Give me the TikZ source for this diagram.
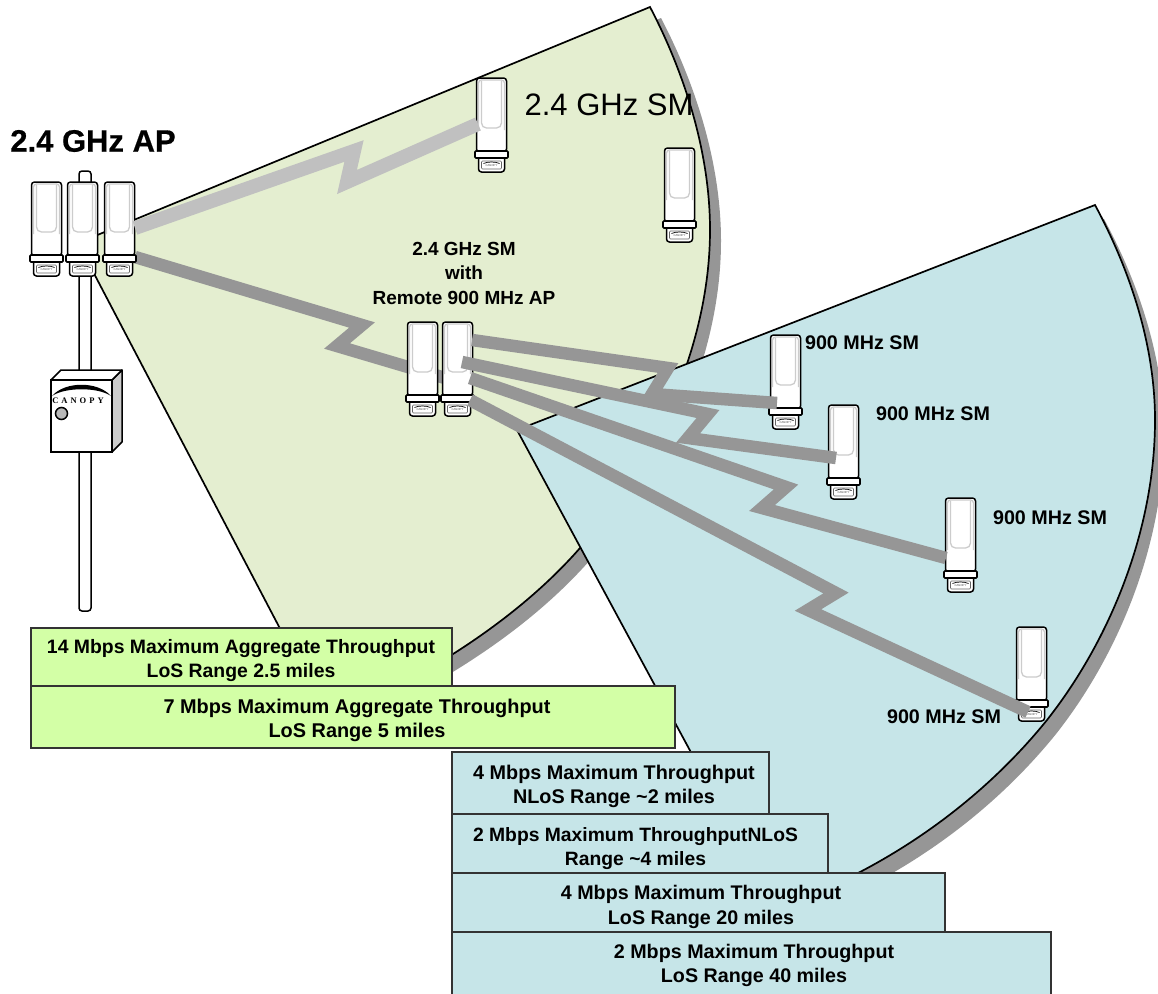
\documentclass[tikz,border=0pt]{standalone}
\usepackage{fontspec}
\setmainfont{Liberation Sans}
\newfontfamily\serifbold{Liberation Serif}[BoldFont={Liberation Serif Bold}]
\newfontfamily\apfont{Liberation Sans Bold}[FakeBold=0.6]
\definecolor{sectgreen}{HTML}{E4EED0}
\definecolor{sectblue}{HTML}{C6E5E8}
\definecolor{tabgreen}{HTML}{D3FFA6}
\definecolor{shadowgrey}{HTML}{969696}
\definecolor{linklight}{HTML}{C0C0C0}
\definecolor{panelgrey}{HTML}{CCCCCC}
\tikzset{
  sector/.style={fill=#1,draw=black,line width=1.7pt,line join=miter},
  shade shape/.style={fill=shadowgrey,draw=none},
  tablebox/.style={draw=black!80,line width=1.5pt,fill=#1,outer sep=0pt,inner sep=0pt,anchor=north west},
  tabletext/.style={font=\bfseries\fontsize{19.7}{24.5}\selectfont,align=center,inner sep=0pt},
  smlabel/.style={font=\bfseries\fontsize{19.7}{24.5}\selectfont,align=center,inner sep=0pt},
  biglabel/.style={font=\fontsize{31}{36}\selectfont,inner sep=0pt},
  link/.style={line width=12.5pt,miter limit=10,line join=miter,color=#1},
  radio/.pic={
    \draw[fill=white,line width=1.5pt,rounded corners=3pt] (0,0) rectangle (30,74);
    \draw[panelgrey,line width=1.3pt,rounded corners=3pt] (2,52) -- (2,2) -- (28,2) -- (28,52);
    \draw[panelgrey,line width=1.3pt,rounded corners=5pt] (5,3) -- (5,50) -- (25,50) -- (25,3);
    \draw[fill=white,line width=1.5pt,rounded corners=3pt] (2,78) -- (2,94) -- (28,94) -- (28,78);
    \draw[fill=white,line width=1.7pt,rounded corners=1pt] (-1.5,73) rectangle (31.5,80);
    \draw[fill=white,draw=black!60,line width=.6pt,rounded corners=1pt] (5,83) rectangle (25,91);
    \draw[line width=.7pt] (7,85.5) .. controls (11,83.5) and (19,83.5) .. (23,85.5);
    \node[inner sep=0pt,text=black!70,font=\fontsize{2.8}{3}\selectfont] (logo) at (15,88) {CANOPY};
  },
}
\begin{document}
\begin{tikzpicture}[x=1pt,y=-1pt]
\useasboundingbox (0,0) rectangle (1158,993);
\clip (0,0) rectangle (1158,993);
\def\greenshape{(78,243) -- (650,7) .. controls (683,70) and (710,150) .. (710,230) .. controls (710,350) and (650,470) .. (580,548) .. controls (530,605) and (465,650) .. (400,685) -- (330,724) -- cycle}
\def\blueshape{(517,430) -- (1095,205) .. controls (1130,270) and (1155,345) .. (1155,420) .. controls (1155,530) and (1110,640) .. (1047,720) .. controls (992,788) and (925,838) .. (860,872) -- (800,900) -- (775,908) -- cycle}
% green sector and shadow
\fill[shade shape,shift={(11,11)}] \greenshape;
\draw[sector=sectgreen] \greenshape;
% pole
\draw[fill=white,line width=1.5pt,rounded corners=3pt] (79,171) rectangle (91,611);
% blue sector and shadow
\fill[shade shape,shift={(9,14)}] \blueshape;
\draw[sector=sectblue] \blueshape;
% controller box
\draw[fill=panelgrey,line width=1.5pt,line join=round] (112,380) -- (122,370) -- (122,442) -- (112,452) -- cycle;
\draw[fill=white,line width=1.5pt,line join=round] (51,380) -- (61,370) -- (122,370) -- (112,380) -- cycle;
\draw[fill=white,line width=1.5pt] (51,380) rectangle (112,452);
\fill (52,396) .. controls (65,381) and (98,381) .. (111,396) .. controls (98,387) and (65,387) .. (52,396) -- cycle;
\node[inner sep=0pt,font=\serifbold\bfseries\fontsize{8.5}{10}\selectfont] (canopy) at (78,401) {C\kern3pt A\kern3pt N\kern3pt O\kern3pt P\kern3pt Y};
\draw[fill=panelgrey!90!black,line width=1.5pt] (61.5,413.5) circle (6);
% links behind the radios
\coordinate (apFeedA) at (135,228);
\coordinate (smTop) at (478,124);
\coordinate (apFeedB) at (135,257);
\coordinate (pairIn) at (445,378);
\draw[link=shadowgrey] (apFeedB) -- (362,325) -- (337,346) -- (pairIn);
% radios
\pic (apA) at (31.5,182) {radio};
\pic (apB) at (67.5,182) {radio};
\pic (apC) at (104.5,182) {radio};
\pic (smA) at (476.5,78) {radio};
\pic (smB) at (664.5,148) {radio};
\pic (pairA) at (407.5,322) {radio};
\pic (pairB) at (442.5,322) {radio};
\pic (smC) at (770.5,335) {radio};
\pic (smD) at (828.5,405) {radio};
\pic (smE) at (945.5,498) {radio};
\pic (smF) at (1016.5,627) {radio};
% links over the radios
\draw[link=linklight,line width=14pt] (apFeedA) -- (354,151) -- (347,182) -- (smTop);
\coordinate (fromPairA) at (472,340);
\coordinate (fromPairB) at (462,362);
\coordinate (fromPairC) at (470,378);
\coordinate (fromPairD) at (470,400);
\coordinate (toC) at (777,403);
\coordinate (toD) at (836,458);
\coordinate (toE) at (946,558);
\coordinate (toF) at (1028,712);
\draw[link=shadowgrey] (fromPairA) -- (668,368) -- (652,394) -- (toC);
\draw[link=shadowgrey] (fromPairB) -- (708,414) -- (688,438) -- (toD);
\draw[link=shadowgrey] (fromPairC) -- (786,487) -- (762,508) -- (toE);
\draw[link=shadowgrey] (fromPairD) -- (836,593) -- (808,610) -- (toF);
% tables
\node[tablebox=tabgreen,minimum width=421pt,minimum height=58pt] (t1) at (31,628) {};
\node[tabletext,font=\bfseries\fontsize{19.4}{24.5}\selectfont] (t1text) at (241,660.5) {14 Mbps Maximum Aggregate Throughput\\LoS Range 2.5 miles};
\node[tablebox=tabgreen,minimum width=644pt,minimum height=62pt] (t2) at (31,686) {};
\node[tabletext,font=\bfseries\fontsize{19.9}{24}\selectfont] (t2text) at (357,720) {7 Mbps Maximum Aggregate Throughput\\LoS Range 5 miles};
\node[tablebox=sectblue,minimum width=317pt,minimum height=62pt] (t3) at (452,752) {};
\node[tabletext,font=\bfseries\fontsize{19.8}{24}\selectfont] (t3text) at (614,786) {4 Mbps Maximum Throughput\\NLoS Range \textasciitilde 2 miles};
\node[tablebox=sectblue,minimum width=376pt,minimum height=59pt] (t4) at (452,814) {};
\node[tabletext,font=\bfseries\fontsize{19.3}{24.5}\selectfont] (t4text) at (635.5,848.5) {2 Mbps Maximum ThroughputNLoS\\Range \textasciitilde 4 miles};
\node[tablebox=sectblue,minimum width=493pt,minimum height=59pt] (t5) at (452,873) {};
\node[tabletext] (t5text) at (701,907) {4 Mbps Maximum Throughput\\LoS Range 20 miles};
\node[tablebox=sectblue,minimum width=599pt,minimum height=70pt] (t6) at (452,932) {};
\node[tabletext] (t6text) at (754,965.5) {2 Mbps Maximum Throughput\\LoS Range 40 miles};
% labels
\node[biglabel,font=\apfont\fontsize{31}{36}\selectfont] (apLabel) at (93,141) {2.4 GHz AP};
\node[biglabel] (smLabel) at (609,105) {2.4 GHz SM};
\node[smlabel,font=\bfseries\fontsize{19}{24.5}\selectfont] (pairLabel) at (464,273) {2.4 GHz SM\\with\\Remote 900 MHz AP};
\node[smlabel] (l1) at (862,343) {900 MHz SM};
\node[smlabel] (l2) at (933,414) {900 MHz SM};
\node[smlabel] (l3) at (1050,518) {900 MHz SM};
\node[smlabel] (l4) at (944,717) {900 MHz SM};
\end{tikzpicture}
\end{document}
